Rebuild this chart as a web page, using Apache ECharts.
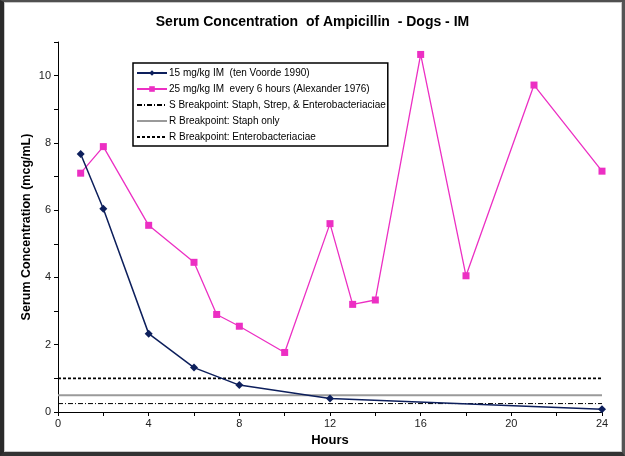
<!DOCTYPE html>
<html><head><meta charset="utf-8">
<script src="https://cdn.jsdelivr.net/npm/echarts@6/dist/echarts.min.js"></script>
<style>
html,body{margin:0;padding:0;background:#fff;}
#frame{position:absolute;left:0;top:0;width:625px;height:456px;box-sizing:border-box;border-style:solid;border-color:#505050 #555 #333 #2a2a2a;border-width:2px 3px 4px 4px;box-shadow:inset 0 0 0 1px #c8c8c8;}
#c{position:absolute;left:0;top:0;width:625px;height:456px;}
</style></head>
<body>
<div id="c"></div>
<div id="frame"></div>
<script>
// Series 1: 15 mg/kg IM (ten Voorde 1990)
const hoursA = [1, 2, 4, 6, 8, 12, 24];
const concA = [7.67, 6.04, 2.33, 1.32, 0.8, 0.4, 0.08];
// Series 2: 25 mg/kg IM every 6 hours (Alexander 1976)
const hoursB = [1, 2, 4, 6, 7, 8, 10, 12, 13, 14, 16, 18, 21, 24];
const concB = [7.1, 7.89, 5.55, 4.45, 2.9, 2.55, 1.77, 5.6, 3.2, 3.33, 10.63, 4.05, 9.72, 7.16];
// Breakpoints
const bpHours = [0, 24];
const bpS = 0.25;        // S Breakpoint: Staph, Strep, & Enterobacteriaciae
const bpRStaph = 0.5;    // R Breakpoint: Staph only
const bpREntero = 1;     // R Breakpoint: Enterobacteriaciae

const names = [
  '15 mg/kg IM  (ten Voorde 1990)',
  '25 mg/kg IM  every 6 hours (Alexander 1976)',
  'S Breakpoint: Staph, Strep, & Enterobacteriaciae',
  'R Breakpoint: Staph only',
  'R Breakpoint: Enterobacteriaciae'
];
const pairs = (xs, ys) => xs.map((x, i) => [x, ys[i]]);
const flat = v => bpHours.map(h => [h, v]);

const chart = echarts.init(document.getElementById('c'));
const font = 'Liberation Sans, Arial, sans-serif';
const hidden = { opacity: 0, borderWidth: 0 };
chart.setOption({
  animation: false,
  textStyle: { fontFamily: font },
  title: {
    text: 'Serum Concentration  of Ampicillin  - Dogs - IM',
    left: 'center', top: 10,
    textStyle: { fontFamily: font, fontSize: 14, fontWeight: 'bold', color: '#000' }
  },
  grid: { left: 58, right: 23, top: 42, bottom: 44 },
  legend: {
    orient: 'vertical', left: 133, top: 63,
    padding: [4, 2, 3, 3],
    itemGap: 4, itemWidth: 30, itemHeight: 7,
    borderColor: '#000', borderWidth: 1.5, backgroundColor: '#fff',
    textStyle: { fontFamily: font, fontSize: 10, lineHeight: 12, color: '#000', padding: [0, 0, 0, -3] },
    data: [
      { name: names[0] },
      { name: names[1] },
      { name: names[2], itemStyle: hidden },
      { name: names[3], itemStyle: hidden },
      { name: names[4], itemStyle: hidden }
    ]
  },
  xAxis: {
    type: 'value', min: 0, max: 24, interval: 2,
    name: 'Hours', nameLocation: 'middle', nameGap: 22,
    nameTextStyle: { fontFamily: font, fontSize: 13, fontWeight: 'bold', color: '#000' },
    axisLine: { lineStyle: { color: '#000', width: 1 } },
    axisTick: { length: 4, lineStyle: { color: '#000' } },
    axisLabel: { fontSize: 11, color: '#222', margin: 6, formatter: v => (v % 4 === 0 ? String(v) : '') },
    splitLine: { show: false }
  },
  yAxis: {
    type: 'value', min: 0, max: 11, interval: 1,
    name: 'Serum Concentration (mcg/mL)', nameLocation: 'middle', nameGap: 25,
    nameMoveOverlap: false,
    nameTextStyle: { fontFamily: font, fontSize: 12.5, fontWeight: 'bold', color: '#000' },
    axisLine: { show: true, lineStyle: { color: '#000', width: 1 } },
    axisTick: { show: true, length: 4, lineStyle: { color: '#000' } },
    axisLabel: { fontSize: 11, color: '#222', margin: 7, formatter: v => (v % 2 === 0 ? String(v) : '') },
    splitLine: { show: false }
  },
  series: [
    {
      name: names[0], type: 'line', data: pairs(hoursA, concA),
      symbol: 'diamond', symbolSize: 8,
      lineStyle: { color: '#0d1f5c', width: 1.5 },
      itemStyle: { color: '#0d1f5c' }, z: 5
    },
    {
      name: names[1], type: 'line', data: pairs(hoursB, concB),
      symbol: 'rect', symbolSize: 7,
      lineStyle: { color: '#ec2fc3', width: 1.3 },
      itemStyle: { color: '#ec2fc3' }, z: 4
    },
    {
      name: names[2], type: 'line', data: flat(bpS), symbol: 'none',
      lineStyle: { color: '#000', width: 1, type: [5, 2, 1, 2] },
      itemStyle: { color: '#000' }
    },
    {
      name: names[3], type: 'line', data: flat(bpRStaph), symbol: 'none',
      lineStyle: { color: '#9a9a9a', width: 2 },
      itemStyle: { color: '#9a9a9a' }
    },
    {
      name: names[4], type: 'line', data: flat(bpREntero), symbol: 'none',
      lineStyle: { color: '#000', width: 1.8, type: [3, 2] },
      itemStyle: { color: '#000' }
    }
  ]
});
</script>
</body></html>
